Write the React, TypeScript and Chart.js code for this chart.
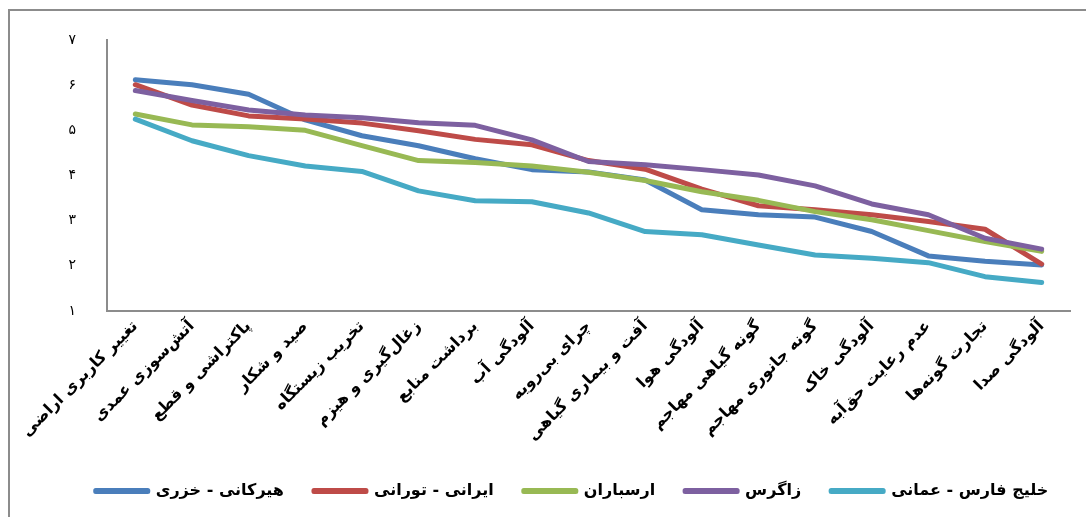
import React, { useEffect, useRef } from "react";
import { Chart, registerables } from "chart.js";

Chart.register(...registerables);

const categories = [
  "تغییر کاربری اراضی",
  "آتش‌سوزی عمدی",
  "پاکتراشی و قطع",
  "صید و شکار",
  "تخریب زیستگاه",
  "زغال‌گیری و هیزم",
  "برداشت منابع",
  "آلودگی آب",
  "چرای بی‌رویه",
  "آفت و بیماری گیاهی",
  "آلودگی هوا",
  "گونه گیاهی مهاجم",
  "گونه جانوری مهاجم",
  "آلودگی خاک",
  "عدم رعایت حق‌آبه",
  "تجارت گونه‌ها",
  "آلودگی صدا",
];

const seriesNames = [
  "هیرکانی - خزری",
  "ایرانی - تورانی",
  "ارسباران",
  "زاگرس",
  "خلیج فارس - عمانی",
];

const hyrcanian = [6.12, 6.01, 5.8, 5.23, 4.88, 4.66, 4.37, 4.13, 4.08, 3.9, 3.24, 3.13, 3.08, 2.76, 2.22, 2.1, 2.02];
const iranTuran = [6.01, 5.56, 5.32, 5.25, 5.16, 4.99, 4.8, 4.68, 4.33, 4.14, 3.7, 3.33, 3.24, 3.13, 2.98, 2.81, 2.04];
const arasbaran = [5.36, 5.12, 5.08, 5.0, 4.66, 4.33, 4.29, 4.21, 4.07, 3.89, 3.64, 3.45, 3.2, 3.02, 2.78, 2.54, 2.32];
const zagros = [5.88, 5.66, 5.45, 5.34, 5.28, 5.17, 5.11, 4.79, 4.31, 4.24, 4.13, 4.01, 3.77, 3.37, 3.13, 2.61, 2.37];
const persianGulf = [5.25, 4.77, 4.44, 4.21, 4.09, 3.66, 3.44, 3.42, 3.17, 2.76, 2.69, 2.46, 2.24, 2.17, 2.07, 1.76, 1.63];

const yTickLabels = ["۱", "۲", "۳", "۴", "۵", "۶", "۷"];

const seriesColors = ["#4A7EBB", "#BE4B48", "#98B954", "#7D60A0", "#46AAC5"];

const shiftLegend = {
  id: "shiftLegend",
  afterLayout(chart: any) {
    const lg = chart.legend;
    if (lg) {
      lg.left += 37;
      lg.right += 37;
    }
  },
};

export default function App() {
  const ref = useRef<HTMLCanvasElement>(null);

  useEffect(() => {
    const canvas = ref.current;
    if (!canvas) return;
    const seriesData = [hyrcanian, iranTuran, arasbaran, zagros, persianGulf];
    const chart = new Chart(canvas, {
      type: "line",
      data: {
        labels: categories,
        datasets: seriesNames.map((name, i) => ({
          label: name,
          data: seriesData[i],
          borderColor: seriesColors[i],
          backgroundColor: seriesColors[i],
          borderWidth: 5,
          pointRadius: 0,
          pointHoverRadius: 0,
          tension: 0,
          borderCapStyle: "round" as const,
          borderJoinStyle: "round" as const,
          order: seriesNames.length - i,
        })),
      },
      plugins: [shiftLegend],
      options: {
        responsive: false,
        animation: false,
        events: [],
        layout: { padding: { left: 0, right: 16, top: 40, bottom: 8 } },
        scales: {
          x: {
            offset: true,
            grid: { display: false, drawTicks: false },
            border: { display: true, color: "#8c8c8c", width: 2 },
            ticks: {
              autoSkip: false,
              maxRotation: 45,
              minRotation: 45,
              padding: 6,
              color: "#000",
              font: { family: "DejaVu Sans", size: 16, weight: "bold" },
            },
            afterFit: (s: any) => {
              s.height = 142;
            },
          },
          y: {
            min: 1,
            max: 7,
            grid: { display: false, drawTicks: false },
            border: { display: true, color: "#8c8c8c", width: 2 },
            ticks: {
              stepSize: 1,
              padding: 31,
              color: "#000",
              font: { family: "DejaVu Sans", size: 14 },
              callback: (v: any) => yTickLabels[Math.round(Number(v)) - 1],
            },
            afterFit: (s: any) => {
              s.width = 107;
            },
          },
        },
        plugins: {
          legend: {
            position: "bottom",
            labels: {
              boxWidth: 52,
              boxHeight: 1,
              padding: 30,
              color: "#000",
              font: { family: "DejaVu Sans", size: 16, weight: "bold" },
              sort: (a: any, b: any) => a.datasetIndex - b.datasetIndex,
            },
          },
          tooltip: { enabled: false },
        },
      },
    });
    return () => chart.destroy();
  }, []);

  return (
    <div
      style={{
        position: "fixed",
        left: 0,
        top: 0,
        width: 1086,
        height: 517,
        overflow: "hidden",
        background: "#fff",
      }}
    >
      <div
        style={{
          position: "absolute",
          left: 8,
          top: 9,
          width: 1200,
          height: 700,
          borderLeft: "2px solid #8c8c8c",
          borderTop: "2px solid #8c8c8c",
        }}
      />
      <canvas
        ref={ref}
        width={1086}
        height={517}
        style={{ position: "absolute", left: 0, top: 0, width: 1086, height: 517, display: "block" }}
      />
    </div>
  );
}
